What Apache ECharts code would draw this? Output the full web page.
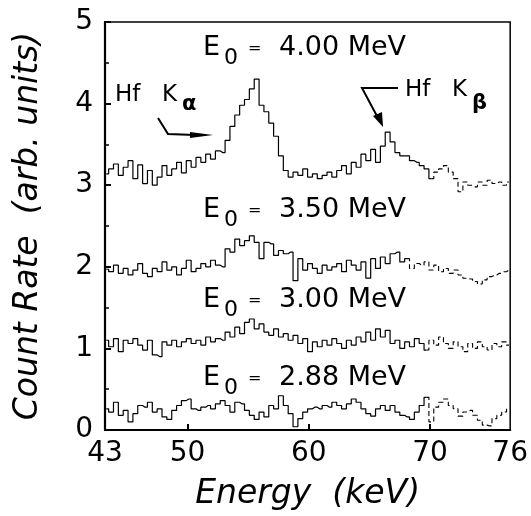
<!DOCTYPE html>
<html>
<head>
<meta charset="utf-8">
<script src="https://cdn.jsdelivr.net/npm/echarts@6/dist/echarts.min.js"></script>
<style>html,body{margin:0;padding:0;background:#fff}#c{width:531px;height:516px}</style>
</head>
<body>
<div id="c"></div>
<script>
// Channel energies (keV)
const energies = [43.3,43.7,44.1,44.5,44.9,45.3,45.7,46.1,46.5,46.9,47.3,47.7,48.1,48.5,48.9,49.3,49.7,50.1,50.5,50.9,
51.3,51.7,52.1,52.5,52.9,53.3,53.7,54.1,54.5,54.9,55.3,55.7,56.1,56.5,56.9,57.3,57.7,58.1,58.5,58.9,
59.3,59.7,60.1,60.5,60.9,61.3,61.7,62.1,62.5,62.9,63.3,63.7,64.1,64.5,64.9,65.3,65.7,66.1,66.5,66.9,
67.3,67.7,68.1,68.5,68.9,69.3,69.7,70.1,70.5,70.9,71.3,71.7,72.1,72.5,72.9,73.3,73.7,74.1,74.5,74.9,
75.3,75.7,76.1,76.5];

// Count rate (arb. units, with vertical offsets as plotted)
const rate400 = [3.14,3.20,3.26,3.12,3.22,3.30,3.08,3.25,3.02,3.18,3.00,3.10,3.24,3.12,3.20,3.28,3.15,3.30,3.22,3.34,
3.28,3.38,3.32,3.42,3.40,3.55,3.72,3.86,3.98,4.05,4.18,4.30,3.98,3.90,3.76,3.60,3.36,3.18,3.10,3.16,
3.12,3.20,3.10,3.14,3.08,3.12,3.16,3.10,3.18,3.24,3.14,3.28,3.22,3.38,3.30,3.44,3.28,3.48,3.65,3.53,
3.40,3.36,3.36,3.30,3.28,3.24,3.20,3.08,3.16,3.20,3.24,3.16,3.08,2.92,3.04,3.00,2.98,3.04,3.00,3.06,
3.02,3.04,3.00,3.04];
const rate350 = [1.97,1.94,2.02,1.92,1.98,1.90,1.96,2.04,1.92,1.88,1.98,1.94,2.06,1.96,2.00,1.90,1.98,2.08,1.94,1.98,
2.04,2.00,2.08,2.02,2.00,2.22,2.18,2.34,2.26,2.32,2.38,2.30,2.10,2.30,2.28,2.14,2.20,2.16,2.18,1.83,
2.10,1.96,2.04,1.98,1.92,2.02,1.96,2.00,2.04,1.94,2.08,2.02,1.96,2.06,1.86,2.10,1.98,2.12,2.04,2.16,
2.18,2.06,2.10,1.98,2.04,2.02,2.06,1.96,2.02,1.94,1.98,1.92,1.96,1.90,1.86,1.85,1.82,1.79,1.84,1.88,
1.90,1.92,1.94,1.96];
const rate300 = [1.10,1.02,1.12,0.96,1.10,1.06,1.12,1.04,0.98,1.10,0.92,0.90,1.08,1.04,1.10,1.02,1.08,1.12,1.06,1.10,
1.04,1.14,1.08,1.12,1.10,1.20,1.14,1.26,1.18,1.32,1.36,1.24,1.30,1.20,1.16,1.24,1.14,1.18,1.10,1.16,
1.06,1.12,0.96,1.08,1.02,1.10,1.04,1.12,1.06,1.00,1.10,1.04,1.14,1.08,1.20,1.10,1.24,1.14,1.22,1.06,
1.10,1.00,1.08,1.02,1.12,1.06,0.98,1.10,1.04,1.14,1.06,1.00,1.08,1.02,0.96,1.06,1.00,1.08,1.02,0.98,
1.06,1.02,1.08,1.04];
const rate288 = [0.26,0.22,0.34,0.18,0.24,0.10,0.20,0.30,0.28,0.34,0.22,0.26,0.16,0.13,0.24,0.30,0.36,0.38,0.26,0.24,
0.28,0.30,0.26,0.32,0.36,0.30,0.22,0.34,0.32,0.24,0.18,0.13,0.22,0.16,0.30,0.26,0.42,0.30,0.20,0.04,
0.14,0.22,0.26,0.28,0.26,0.30,0.28,0.34,0.30,0.26,0.32,0.38,0.34,0.26,0.20,0.17,0.26,0.30,0.24,0.30,
0.22,0.18,0.16,0.13,0.22,0.30,0.40,0.10,0.28,0.34,0.38,0.30,0.26,0.17,0.22,0.24,0.18,0.12,0.06,0.05,
0.14,0.18,0.22,0.26];

const seriesNames = ['E0 = 4.00 MeV','E0 = 3.50 MeV','E0 = 3.00 MeV','E0 = 2.88 MeV'];
const seriesData = [rate400, rate350, rate300, rate288];
// channel index from which each faint trace looks broken (dashed) in the original
const brokenFrom = [67, 62, 66, 66];

const xMin = 43.2, xMax = 76.6;
const xTickLabelValues = [43.2, 50, 60, 70, 76.6];
const xTickLabels = ['43','50','60','70','76'];
const xTickMarks = [50, 60, 70];

const FONT = 'DejaVu Sans';
const chart = echarts.init(document.getElementById('c'), null, {renderer:'canvas'});

const series = [];
seriesData.forEach((arr, k) => {
  const pts = arr.map((v, i) => [energies[i], v]);
  series.push({
    name: seriesNames[k], type:'line', step:'middle', showSymbol:false, silent:true,
    lineStyle:{color:'#000', width:1.2},
    data: pts.slice(0, brokenFrom[k] + 1)
  });
  series.push({
    name: seriesNames[k] + ' (tail)', type:'line', step:'middle', showSymbol:false, silent:true,
    lineStyle:{color:'#000', width:1.1, type:[5,3]},
    data: pts.slice(brokenFrom[k])
  });
});

function txt(x, y, s, size, extra) {
  return Object.assign({type:'text', x:x, y:y, style:{text:s, fontFamily:FONT, fontSize:size, fill:'#000', textVerticalAlign:'middle', textAlign:'left'}}, extra||{});
}
function eLabel(y, val) {
  return [
    txt(203, y, 'E', 27),
    txt(224, y + 10, '0', 22),
    txt(248, y + 1, '=', 16),
    txt(279, y, val + ' MeV', 27)
  ];
}

const graphics = [].concat(
  eLabel(48, '4.00'),
  eLabel(210, '3.50'),
  eLabel(300, '3.00'),
  eLabel(378, '2.88'),
  [
    txt(115, 95, 'Hf', 23),
    txt(162, 95, 'K', 23),
    {type:'text', x:182, y:105, style:{text:'α', fontFamily:FONT, fontSize:21, fontWeight:'bold', fill:'#000', textVerticalAlign:'middle'}},
    {type:'polyline', shape:{points:[[158,118],[168,134],[195,135]]}, style:{stroke:'#000', lineWidth:2, fill:null}},
    {type:'polygon', shape:{points:[[190,132],[213,135],[190,138]]}, style:{fill:'#000'}},
    txt(405, 90, 'Hf', 23),
    txt(452, 90, 'K', 23),
    {type:'text', x:472, y:104, style:{text:'β', fontFamily:FONT, fontSize:21, fontWeight:'bold', fill:'#000', textVerticalAlign:'middle'}},
    {type:'polyline', shape:{points:[[398,88],[362,88],[378,118]]}, style:{stroke:'#000', lineWidth:2, fill:null}},
    {type:'polygon', shape:{points:[[373,116],[383,127],[382,112]]}, style:{fill:'#000'}}
  ]
);

chart.setOption({
  animation: false,
  backgroundColor: '#fff',
  grid: {left:105, top:22, right:19, bottom:85, show:true, borderColor:'#000', borderWidth:1.5, backgroundColor:'transparent'},
  xAxis: {
    type:'value', min:xMin, max:xMax,
    name:'Energy  (keV)', nameLocation:'middle', nameGap:48,
    nameTextStyle:{fontFamily:FONT, fontStyle:'italic', fontSize:33, color:'#000'},
    axisLine:{show:true, lineStyle:{color:'#000', width:2.2}},
    axisTick:{show:true, inside:true, length:6, lineStyle:{color:'#000', width:2}, customValues:xTickMarks},
    axisLabel:{fontFamily:FONT, fontSize:28, color:'#000', margin:10, customValues:xTickLabelValues,
      formatter:function(v){ const i = xTickLabelValues.indexOf(v); return i >= 0 ? xTickLabels[i] : ''; }},
    splitLine:{show:false}
  },
  yAxis: {
    type:'value', min:0, max:5, interval:1,
    name:'Count Rate  (arb. units)', nameLocation:'middle', nameGap:60,
    nameTextStyle:{fontFamily:FONT, fontStyle:'italic', fontSize:33, color:'#000'},
    axisLine:{show:true, lineStyle:{color:'#000', width:2.2}},
    axisTick:{show:true, inside:true, length:6, lineStyle:{color:'#000', width:2}},
    minorTick:{show:true, splitNumber:2, length:4, lineStyle:{color:'#000', width:1.5}},
    axisLabel:{fontFamily:FONT, fontSize:28, color:'#000', margin:12},
    splitLine:{show:false}
  },
  series: series,
  graphic: graphics
});
</script>
</body>
</html>
